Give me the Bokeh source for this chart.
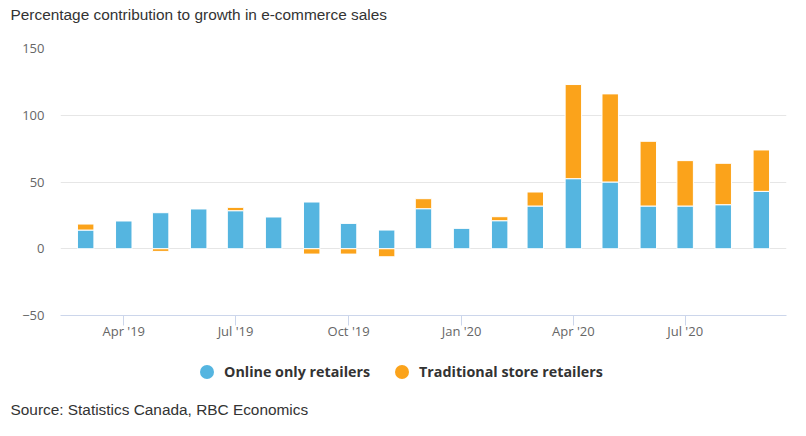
from datetime import timedelta
import numpy as np
import pandas as pd
from bokeh.plotting import figure
from bokeh.layouts import column
from bokeh.models import (ColumnDataSource, Range1d, FixedTicker, MonthsTicker,
                          DatetimeTickFormatter, Legend, LegendItem, Title)
from bokeh.embed import file_html
from bokeh.resources import INLINE

# ---- data ----
months = ["2019-03", "2019-04", "2019-05", "2019-06", "2019-07", "2019-08",
          "2019-09", "2019-10", "2019-11", "2019-12", "2020-01", "2020-02",
          "2020-03", "2020-04", "2020-05", "2020-06", "2020-07", "2020-08",
          "2020-09"]
online_only = [14, 21, 27, 30, 28.5, 24, 35, 19, 14, 30, 15.5, 21, 32, 52.5,
               50, 32, 32, 33, 43]
traditional = [4.5, 0, -2, 0, 2.5, 0, -4, -4, -6, 7.5, 0, 3, 10.5, 70.5,
               66, 48.5, 34, 31, 31]
series_names = ["Online only retailers", "Traditional store retailers"]
y_ticks = [-50, 0, 50, 100, 150]
title_text = "Percentage contribution to growth in e-commerce sales"
source_text = "Source: Statistics Canada, RBC Economics"

BLUE = "#55b5e0"
ORANGE = "#fba31b"
FONT_TXT = "Liberation Sans"
FONT_UI = "Open Sans"


def strip(height, border_bottom):
    f = figure(width=790, height=height, output_backend="svg",
               toolbar_location=None, title=None,
               x_axis_location=None, y_axis_location=None,
               x_range=Range1d(0, 1), y_range=Range1d(0, 1),
               min_border_left=60, min_border_right=4,
               min_border_top=0, min_border_bottom=border_bottom)
    f.outline_line_color = None
    f.xgrid.grid_line_color = None
    f.ygrid.grid_line_color = None
    f.border_fill_color = "white"
    f.background_fill_color = "white"
    return f


# ---- top strip: title ----
t = strip(26, 23)
t.add_layout(Title(text=title_text, align="left", offset=-50, standoff=0,
                   text_font=FONT_TXT, text_font_size="15.4px",
                   text_font_style="normal", text_color="#333333"), "below")

# ---- main chart ----
dates = pd.to_datetime([m + "-01" for m in months])
on = np.array(online_only, dtype=float)
tr = np.array(traditional, dtype=float)

src_on = ColumnDataSource(dict(x=dates, bottom=np.zeros_like(on), top=on))
src_tr = ColumnDataSource(dict(
    x=dates,
    bottom=np.where(tr >= 0, on, 0.0),
    top=np.where(tr >= 0, on + tr, tr),
))

pad = timedelta(days=20.5)
p = figure(width=790, height=316, output_backend="svg", toolbar_location=None,
           title=None, x_axis_type="datetime",
           x_range=Range1d(dates[0] - pad, dates[-1] + pad),
           y_range=Range1d(-50, 150),
           min_border_left=60, min_border_right=4, min_border_top=22,
           min_border_bottom=26)
p.outline_line_color = None
p.background_fill_color = "white"
p.border_fill_color = "white"

bw = timedelta(days=13.4).total_seconds() * 1000
p.vbar(x="x", bottom="bottom", top="top", width=bw, source=src_on,
       fill_color=BLUE, line_color="white", line_width=1)
p.vbar(x="x", bottom="bottom", top="top", width=bw, source=src_tr,
       fill_color=ORANGE, line_color="white", line_width=1)

xa = p.xaxis[0]
xa.ticker = MonthsTicker(months=[0, 3, 6, 9])
xa.formatter = DatetimeTickFormatter(months="%b '%y", days="%b '%y", years="%b '%y")
xa.axis_line_color = "#ccd6eb"
xa.major_tick_line_color = "#ccd6eb"
xa.major_tick_out = 10
xa.major_tick_in = 0
xa.minor_tick_line_color = None
xa.major_label_standoff = -4
xa.major_label_text_font = FONT_UI
xa.major_label_text_font_size = "13px"
xa.major_label_text_color = "#666666"

ya = p.yaxis[0]
ya.ticker = FixedTicker(ticks=y_ticks)
ya.axis_line_color = None
ya.major_tick_line_color = None
ya.minor_tick_line_color = None
ya.major_tick_out = 0
ya.major_label_standoff = 16
ya.major_label_text_font = FONT_UI
ya.major_label_text_font_size = "13px"
ya.major_label_text_color = "#666666"

p.xgrid.grid_line_color = None
p.ygrid.ticker = FixedTicker(ticks=y_ticks)
p.ygrid.grid_line_color = "#e6e6e6"

# ---- bottom strip: legend + source ----
q = strip(80, 24)
proxy = ColumnDataSource(dict(x=[np.nan], y=[np.nan]))
r1 = q.scatter(x="x", y="y", source=proxy, marker="circle", size=14,
               fill_color=BLUE, line_color=None)
r2 = q.scatter(x="x", y="y", source=proxy, marker="circle", size=14,
               fill_color=ORANGE, line_color=None)
legend = Legend(items=[LegendItem(label=series_names[0], renderers=[r1]),
                       LegendItem(label=series_names[1], renderers=[r2])],
                orientation="horizontal", location=(129, 9),
                border_line_color=None, background_fill_alpha=0,
                label_text_font=FONT_UI, label_text_font_style="bold",
                label_text_font_size="14.3px", label_text_color="#333333",
                glyph_width=35, glyph_height=35, label_standoff=-3,
                spacing=14, margin=0, padding=0)
q.add_layout(legend)

q.add_layout(Title(text=source_text, align="left", offset=-50, standoff=0,
                   text_font=FONT_TXT, text_font_size="15.4px",
                   text_font_style="normal", text_color="#333333"), "below")

open("out.html", "w").write(file_html(column(t, p, q), INLINE))
